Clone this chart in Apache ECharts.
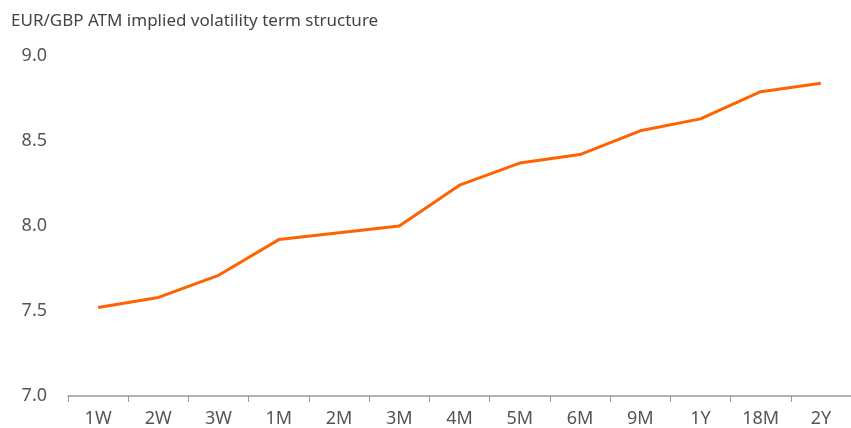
<!DOCTYPE html>
<html><head><meta charset="utf-8">
<script src="https://cdn.jsdelivr.net/npm/echarts@6/dist/echarts.min.js"></script>
<style>html,body{margin:0;padding:0;background:#fff}#c{width:851px;height:428px}</style>
</head><body><div id="c"></div>
<script>
const titleText = 'EUR/GBP ATM implied volatility term structure';
const categories = ['1W','2W','3W','1M','2M','3M','4M','5M','6M','9M','1Y','18M','2Y'];
const vols = [7.52, 7.58, 7.71, 7.92, 7.96, 8.0, 8.24, 8.37, 8.42, 8.56, 8.63, 8.79, 8.84];
const yTicks = [7.0, 7.5, 8.0, 8.5, 9.0];

const chart = echarts.init(document.getElementById('c'), null, {renderer:'canvas'});
chart.setOption({
  animation:false,
  title:{text:titleText,left:6,top:8,textStyle:{fontFamily:'Noto Sans',fontSize:17,fontWeight:'normal',color:'#444'}},
  grid:{left:68,top:56,width:796,bottom:32,containLabel:false},
  xAxis:{type:'category',data:categories,boundaryGap:true,
    axisLine:{lineStyle:{color:'#999',width:1.5}},
    axisTick:{show:true,length:6,lineStyle:{color:'#999'}},
    axisLabel:{fontFamily:'Noto Sans',fontSize:18,color:'#555',margin:14}},
  yAxis:{type:'value',min:yTicks[0],max:yTicks[yTicks.length-1],interval:0.5,
    axisLine:{show:false},axisTick:{show:false},splitLine:{show:false},
    axisLabel:{fontFamily:'Noto Sans',fontSize:18,color:'#555',margin:21,formatter:v=>v.toFixed(1)}},
  series:[{type:'line',data:vols,symbol:'none',lineStyle:{color:'#FF6200',width:3}}]
});
</script></body></html>
